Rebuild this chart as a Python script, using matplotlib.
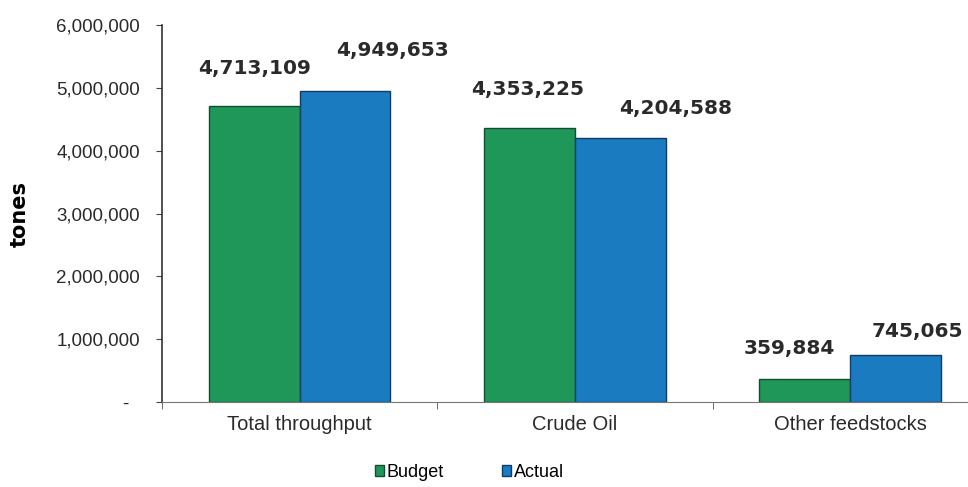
import matplotlib.pyplot as plt
import numpy as np

categories = ["Total throughput", "Crude Oil", "Other feedstocks"]
budget = [4713109, 4353225, 359884]
actual = [4949653, 4204588, 745065]
yticks = [0, 1000000, 2000000, 3000000, 4000000, 5000000, 6000000]
ytick_labels = ["-  ", "1,000,000", "2,000,000", "3,000,000", "4,000,000", "5,000,000", "6,000,000"]

green = "#1e9758"
blue = "#1a7bc1"

fig = plt.figure(figsize=(9.68, 4.87), dpi=100)
ax = fig.add_axes([0.1674, 0.1745, 0.853, 0.7742])

x = np.arange(len(categories))
w = 0.33
ax.bar(x - w / 2, budget, w, color=green, edgecolor="#124d33", linewidth=1, label="Budget")
ax.bar(x + w / 2, actual, w, color=blue, edgecolor="#0f3d66", linewidth=1, label="Actual")

ax.set_xlim(-0.5, 2.5)
ax.set_ylim(0, 6000000)
ax.set_yticks(yticks)
ax.set_yticklabels(ytick_labels, fontsize=13.5, family="Liberation Sans", color="#2a2a2a")
ax.set_xticks(x)
ax.set_xticklabels(categories, fontsize=14.5, family="Liberation Sans", color="#2a2a2a")
ax.tick_params(axis="x", length=0, pad=9)
ax.set_xticks([-0.5, 0.5, 1.5], minor=True)
ax.tick_params(axis="x", which="minor", length=5, direction="out", color="#555555")
ax.tick_params(axis="y", length=4, direction="out", pad=12, color="#444444")

for s in ["top", "right"]:
    ax.spines[s].set_visible(False)
ax.spines["left"].set_color("#333333")
ax.spines["left"].set_linewidth(1.2)
ax.spines["bottom"].set_color("#777777")

ax.set_ylabel("tones", fontsize=15, fontweight="bold", family="DejaVu Sans", labelpad=19)

# value labels (offsets in points, as placed in the original)
offsets_b = [(0, 27), (-1.5, 28), (-11, 22)]
offsets_a = [(34, 29), (40, 21), (16, 17)]
for i in range(len(categories)):
    ax.annotate(f"{budget[i]:,}", (x[i] - w / 2, budget[i]), xytext=offsets_b[i],
                textcoords="offset points", ha="center", va="center",
                fontsize=14.5, fontweight="bold", family="DejaVu Sans", color="#2a2a2a")
    ax.annotate(f"{actual[i]:,}", (x[i] + w / 2, actual[i]), xytext=offsets_a[i],
                textcoords="offset points", ha="center", va="center",
                fontsize=14.5, fontweight="bold", family="DejaVu Sans", color="#2a2a2a")

fig.legend(loc="center", bbox_to_anchor=(0.485, 0.03), ncol=2, frameon=False,
           prop={"family": "Liberation Sans", "size": 13}, handlelength=0.5,
           handleheight=0.5, handletextpad=0.15, columnspacing=3.2)

fig.savefig("out.png", dpi=100)
